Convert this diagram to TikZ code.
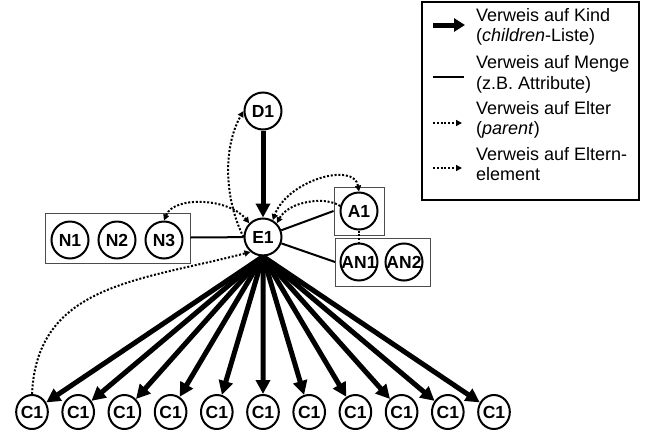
\documentclass[tikz,border=0pt]{standalone}
\usepackage{fontspec}
\setmainfont{Liberation Sans}
\usepackage{tikz}
\usetikzlibrary{shapes, arrows, arrows.meta}
\usetikzlibrary{positioning}
\tikzstyle{knot} = [circle, minimum size = 37pt, inner sep = 0pt, draw =
  black, line width = 2pt, fill = white,
  font = \fontsize{17.5}{19}\selectfont\bfseries]
\tikzstyle{leaf} = [
  ellipse, minimum width = 31pt, minimum height = 34pt, inner sep = 0pt,
  draw = black, line width = 2pt, fill = white,
  font = \fontsize{17.5}{19}\selectfont\bfseries
]
\tikzstyle{set} = [rectangle, draw = black!70, line width = 0.9pt,
  inner sep = 0pt]
\tikzstyle{child} = [line width = 5pt, -{Triangle[length = 14pt, width = 14pt]}]
\tikzstyle{member} = [line width = 2pt]
\tikzstyle{parent} = [line width = 2pt, dash pattern = on 2pt off 1.8pt,
  >={Triangle[length = 6pt, width = 6pt]}, ->]
\tikzstyle{legend} = [align = left, inner sep = 0pt,
  font = \fontsize{18}{20.5}\selectfont]

\begin{document}
\begin{tikzpicture}[x = 1pt, y = -1pt, node distance = 0]
      \useasboundingbox (0, 0) rectangle (651, 429);
      % legende
      \node [set, draw = black, line width = 1.2pt, minimum width = 217pt,
        minimum height = 198pt] (set-legend) at (530.5, 101) {};
      \coordinate (leg-kind-a) at (433, 25);
      \coordinate [right of = leg-kind-a, xshift = 32] (leg-kind-b);
      \coordinate [below of = leg-kind-a, yshift = -52] (leg-menge-a);
      \coordinate [right of = leg-menge-a, xshift = 31] (leg-menge-b);
      \coordinate [below of = leg-menge-a, yshift = -46] (leg-elter-a);
      \coordinate [right of = leg-elter-a, xshift = 29] (leg-elter-b);
      \coordinate [below of = leg-elter-a, yshift = -45] (leg-eltern-a);
      \coordinate [right of = leg-eltern-a, xshift = 29] (leg-eltern-b);
      \node [legend, right of = leg-kind-b, anchor = west, xshift = 11,
        yshift = -2] (leg-kind) {Verweis auf Kind\\(\textit{children}-Liste)};
      \node [legend, right of = leg-menge-b, anchor = west, xshift = 12,
        yshift = 2.5] (leg-menge) {Verweis auf Menge\\(z.B. Attribute)};
      \node [legend, right of = leg-elter-b, anchor = west, xshift = 14,
        yshift = 3] (leg-elter) {Verweis auf Elter\\(\textit{parent})};
      \node [legend, right of = leg-eltern-b, anchor = west, xshift = 14,
        yshift = 4] (leg-eltern) {Verweis auf Eltern-\\element};
      \draw [child, -{Triangle[length = 11pt, width = 13pt]}] (leg-kind-a) --
      (leg-kind-b);
      \draw [member] (leg-menge-a) -- (leg-menge-b);
      \draw [parent] (leg-elter-a) -- (leg-elter-b);
      \draw [parent] (leg-eltern-a) -- (leg-eltern-b);

      % dokument, element
      \node [knot] (knot-d1) at (263, 111) {D1};
      \node [knot, below of = knot-d1, yshift = -126] (knot-e1) {E1};
      % namensraeume
      \node [set, left of = knot-e1, xshift = -145.5, yshift = -1,
        minimum width = 145pt, minimum height = 50pt] (set-n) {};
      \node [knot, left of = set-n, xshift = -47.5, yshift = -2] (knot-n1) {N1};
      \node [knot, right of = knot-n1, xshift = 47] (knot-n2) {N2};
      \node [knot, right of = knot-n2, xshift = 47] (knot-n3) {N3};
      % attribute
      \node [set, right of = knot-e1, xshift = 96, yshift = 26,
        minimum width = 50pt, minimum height = 48pt] (set-a) {};
      \node [knot] (knot-a1) at (set-a) {A1};
      \node [set, right of = knot-e1, xshift = 120, yshift = -25,
        minimum width = 95pt, minimum height = 48pt] (set-an) {};
      \node [knot, left of = set-an, xshift = -24] (knot-an1) {AN1};
      \node [knot, right of = knot-an1, xshift = 45] (knot-an2) {AN2};
      % kinder
      \node [leaf, below of = knot-e1, xshift = -231, yshift = -175] (knot-c-1) {C1};
      \node [leaf, right of = knot-c-1, xshift = 46.2] (knot-c-2) {C1};
      \node [leaf, right of = knot-c-2, xshift = 46.2] (knot-c-3) {C1};
      \node [leaf, right of = knot-c-3, xshift = 46.2] (knot-c-4) {C1};
      \node [leaf, right of = knot-c-4, xshift = 46.2] (knot-c-5) {C1};
      \node [leaf, right of = knot-c-5, xshift = 46.2] (knot-c-6) {C1};
      \node [leaf, right of = knot-c-6, xshift = 46.2] (knot-c-7) {C1};
      \node [leaf, right of = knot-c-7, xshift = 46.2] (knot-c-8) {C1};
      \node [leaf, right of = knot-c-8, xshift = 46.2] (knot-c-9) {C1};
      \node [leaf, right of = knot-c-9, xshift = 46.2] (knot-c-10) {C1};
      \node [leaf, right of = knot-c-10, xshift = 46.2] (knot-c-11) {C1};

      \draw [child] (knot-d1) -- (knot-e1);
      \draw [child] (knot-e1.south) -- (knot-c-1);
      \draw [child] (knot-e1.south) -- (knot-c-2);
      \draw [child] (knot-e1.south) -- (knot-c-3);
      \draw [child] (knot-e1.south) -- (knot-c-4);
      \draw [child] (knot-e1.south) -- (knot-c-5);
      \draw [child] (knot-e1.south) -- (knot-c-6);
      \draw [child] (knot-e1.south) -- (knot-c-7);
      \draw [child] (knot-e1.south) -- (knot-c-8);
      \draw [child] (knot-e1.south) -- (knot-c-9);
      \draw [child] (knot-e1.south) -- (knot-c-10);
      \draw [child] (knot-e1.south) -- (knot-c-11);

      \draw [member] (set-n) -- (knot-e1);
      \draw [member] (knot-e1) -- (set-a.west);
      \draw [member] (knot-e1) -- (set-an.west);

      \draw [parent] (knot-e1.west) .. controls +(-20, -40) and +(-20, 35) ..
      (knot-d1.west);
      \draw [parent, <->] (knot-n3.north) .. controls +(10, -25) and +(-20, -25) ..
      (knot-e1.135);
      \draw [parent, <->] (knot-a1.north) .. controls +(-5, -30) and +(15, -40) ..
      (knot-e1.60);
      \draw [parent] (knot-a1.165) .. controls +(-15, -10) and +(12, -22) ..
      (knot-e1.45);
      \draw [parent] (knot-c-1.north) .. controls +(5, -110) and +(-111, 29) ..
      (knot-e1.230);
      \draw [parent, -] (knot-a1.south) -- (knot-an1.north);
    \end{tikzpicture}
\end{document}
